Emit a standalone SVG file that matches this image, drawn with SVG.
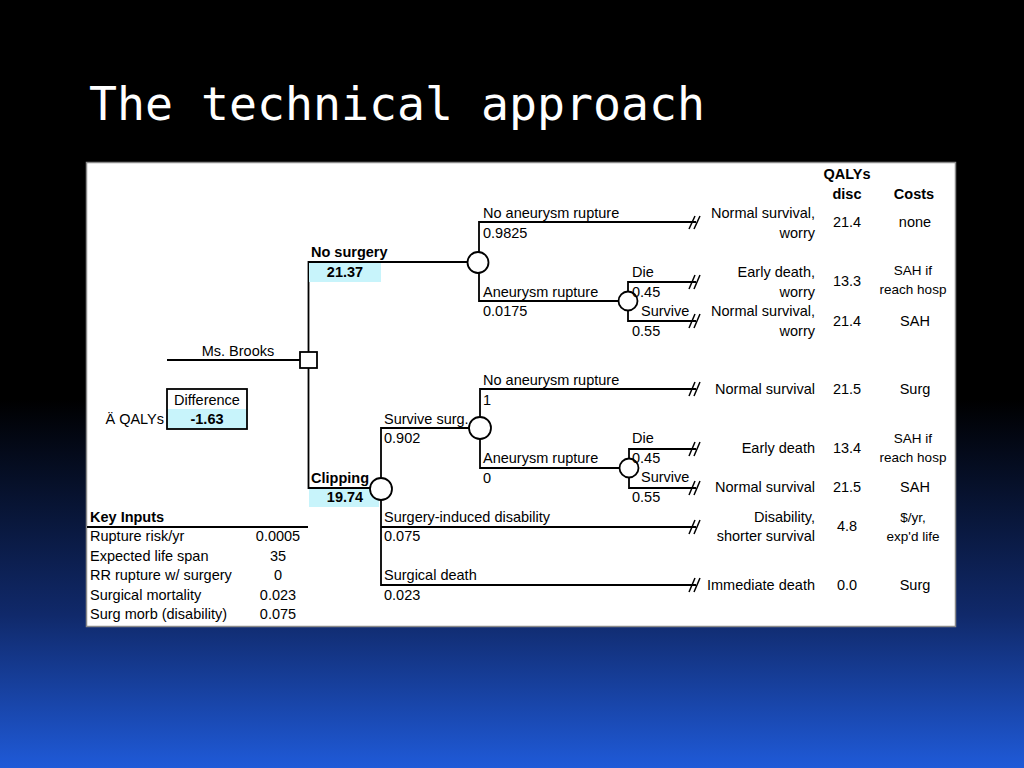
<svg xmlns="http://www.w3.org/2000/svg" width="1024" height="768" viewBox="0 0 1024 768">
<defs>
<linearGradient id="bg" x1="0" y1="0" x2="0" y2="1">
<stop offset="0" stop-color="#000"/>
<stop offset="0.52" stop-color="#000"/>
<stop offset="0.8" stop-color="#10296a"/>
<stop offset="1" stop-color="#1f5ad8"/>
</linearGradient>
<style>
text{font-family:"Liberation Sans",Arial,sans-serif;font-size:14.5px;fill:#000}
.b{font-weight:bold}
.m{text-anchor:middle}
.e{text-anchor:end}
.s{font-size:13.5px}
.ln{stroke:#000;stroke-width:1.8;fill:none}
.nd{stroke:#000;stroke-width:1.8;fill:#fff}
.cy{fill:#c8f4fb}
.term{stroke:#000;stroke-width:1.5;fill:none}
</style>
</defs>
<rect x="0" y="0" width="1024" height="768" fill="url(#bg)"/>
<text x="89" y="120" style="font-family:'DejaVu Sans Mono',monospace;font-size:46.5px;fill:#fff">The technical approach</text>
<rect x="86.5" y="162.5" width="869" height="464" fill="#fff" stroke="#8a8a8a" stroke-width="1.5"/>

<g id="connectors">
<path class="ln" d="M167,360 H300"/>
<path class="ln" d="M308.5,352 V262 H468"/>
<path class="ln" d="M308.5,368 V488 H370"/>
<path class="ln" d="M479,252 V222 H696 M479,273 V301 H619"/>
<path class="ln" d="M628,292 V282 H696 M628,310 V321 H696"/>
<path class="ln" d="M381,478 V428 H469 M381,500 V585 H696 M381,527 H696"/>
<path class="ln" d="M480,417 V389 H696 M480,439 V468 H620"/>
<path class="ln" d="M629,459 V449 H696 M629,477 V488 H696"/>
<path class="term" d="M689,229 l6,-13 M694,229 l6,-13 M689,289 l6,-14 M694,289 l6,-14 M689,328 l6,-14 M694,328 l6,-14 M689,396 l6,-14 M694,396 l6,-14 M689,456 l6,-14 M694,456 l6,-14 M689,495 l6,-14 M694,495 l6,-14 M689,534 l6,-14 M694,534 l6,-14 M689,592 l6,-14 M694,592 l6,-14"/>
</g>

<g id="root">
<text class="m" x="238" y="356">Ms. Brooks</text>
<rect class="nd" x="300" y="352" width="17" height="16"/>
</g>

<g id="no-surgery">
<rect class="cy" x="309" y="263" width="72" height="19"/>
<text class="b" x="311" y="257">No surgery</text>
<text class="b m" x="345" y="277">21.37</text>
<circle class="nd" cx="478" cy="262.5" r="10.5"/>
</g>

<g id="ns-branches">
<text x="483" y="218">No aneurysm rupture</text>
<text x="483" y="238">0.9825</text>
<text x="483" y="297">Aneurysm rupture</text>
<text x="483" y="316">0.0175</text>
<circle class="nd" cx="628" cy="301" r="9.5"/>
<text x="632" y="277">Die</text>
<text x="632" y="297">0.45</text>
<text x="641" y="316">Survive</text>
<text x="632" y="336">0.55</text>
</g>

<g id="clipping">
<rect class="cy" x="309" y="489" width="70" height="18"/>
<text class="b" x="311" y="483">Clipping</text>
<text class="b m" x="345" y="502">19.74</text>
<circle class="nd" cx="381" cy="489" r="11"/>
</g>

<g id="clip-branches">
<text x="384" y="424">Survive surg.</text>
<text x="384" y="443">0.902</text>
<circle class="nd" cx="480" cy="428" r="11"/>
<text x="483" y="385">No aneurysm rupture</text>
<text x="483" y="405">1</text>
<text x="483" y="463">Aneurysm rupture</text>
<text x="483" y="483">0</text>
<circle class="nd" cx="629" cy="468" r="9.5"/>
<text x="632" y="443">Die</text>
<text x="632" y="463">0.45</text>
<text x="641" y="482">Survive</text>
<text x="632" y="502">0.55</text>
<text x="384" y="522">Surgery-induced disability</text>
<text x="384" y="541">0.075</text>
<text x="384" y="580">Surgical death</text>
<text x="384" y="600">0.023</text>
</g>

<g id="outcomes">
<text class="b m" x="847" y="179">QALYs</text>
<text class="b m" x="847" y="199">disc</text>
<text class="b m" x="914" y="199">Costs</text>

<text class="e" x="815" y="218">Normal survival,</text>
<text class="e" x="815" y="238">worry</text>
<text class="m" x="847" y="227">21.4</text>
<text class="m" x="915" y="227">none</text>

<text class="e" x="815" y="277">Early death,</text>
<text class="e" x="815" y="297">worry</text>
<text class="m" x="847" y="286">13.3</text>
<text class="m s" x="913" y="275">SAH if</text>
<text class="m s" x="913" y="294">reach hosp</text>

<text class="e" x="815" y="316">Normal survival,</text>
<text class="e" x="815" y="336">worry</text>
<text class="m" x="847" y="326">21.4</text>
<text class="m" x="915" y="326">SAH</text>

<text class="e" x="815" y="394">Normal survival</text>
<text class="m" x="847" y="394">21.5</text>
<text class="m" x="915" y="394">Surg</text>

<text class="e" x="815" y="453">Early death</text>
<text class="m" x="847" y="453">13.4</text>
<text class="m s" x="913" y="443">SAH if</text>
<text class="m s" x="913" y="462">reach hosp</text>

<text class="e" x="815" y="492">Normal survival</text>
<text class="m" x="847" y="492">21.5</text>
<text class="m" x="915" y="492">SAH</text>

<text class="e" x="815" y="522">Disability,</text>
<text class="e" x="815" y="541">shorter survival</text>
<text class="m" x="847" y="531">4.8</text>
<text class="m s" x="913" y="522">$/yr,</text>
<text class="m s" x="913" y="541">exp'd life</text>

<text class="e" x="815" y="590">Immediate death</text>
<text class="m" x="847" y="590">0.0</text>
<text class="m" x="915" y="590">Surg</text>
</g>

<g id="difference">
<text class="e" x="164" y="424">Ä QALYs</text>
<rect class="cy" x="167" y="409" width="80" height="20"/>
<rect x="167" y="389" width="80" height="40" fill="none" stroke="#000" stroke-width="1.8"/>
<text class="m" x="207" y="405">Difference</text>
<text class="b m" x="207" y="424">-1.63</text>
</g>

<g id="key-inputs">
<text class="b" x="90" y="522">Key Inputs</text>
<path class="ln" d="M87,527 H308"/>
<text x="90" y="541">Rupture risk/yr</text>
<text class="m" x="278" y="541">0.0005</text>
<text x="90" y="561">Expected life span</text>
<text class="m" x="278" y="561">35</text>
<text x="90" y="580">RR rupture w/ surgery</text>
<text class="m" x="278" y="580">0</text>
<text x="90" y="600">Surgical mortality</text>
<text class="m" x="278" y="600">0.023</text>
<text x="90" y="619">Surg morb (disability)</text>
<text class="m" x="278" y="619">0.075</text>
</g>
</svg>
